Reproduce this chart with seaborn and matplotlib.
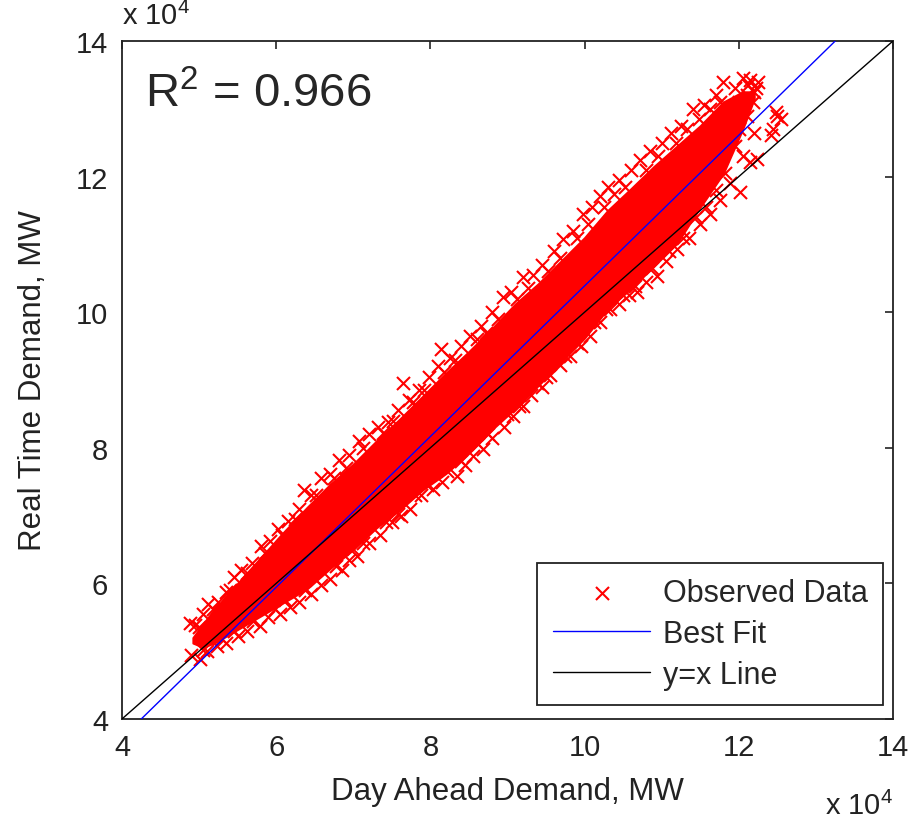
"""Real time vs day ahead demand scatter."""
import numpy as np
import matplotlib

matplotlib.use("Agg")
import matplotlib.pyplot as plt
import seaborn as sns

# all values in units of 10^4 MW

# dense (saturated) part of the cloud: lower / upper edge per day-ahead value
core_x = [4.92, 5.05, 5.2, 5.5, 5.8, 6.1, 6.4, 6.7, 7.0, 7.3, 7.6, 7.9, 8.2, 8.5,
          8.8, 9.1, 9.4, 9.7, 10.0, 10.3, 10.6, 10.9, 11.2, 11.5, 11.8, 12.05, 12.2]
core_lower = [5.12, 5.06, 5.12, 5.32, 5.52, 5.72, 5.92, 6.22, 6.5, 6.82, 7.08, 7.38, 7.62,
              7.92, 8.27, 8.58, 8.92, 9.27, 9.62, 10.05, 10.35, 10.68, 11.02, 11.55,
              12.05, 12.7, 13.15]
core_upper = [5.2, 5.4, 5.62, 6.0, 6.38, 6.76, 7.12, 7.46, 7.76, 8.1, 8.42, 8.76, 9.1,
              9.42, 9.76, 10.12, 10.42, 10.76, 11.1, 11.5, 11.82, 12.15, 12.45, 12.75,
              13.1, 13.25, 13.25]

# loose points along the upper edge
hi_x = [4.88, 4.95, 5.05, 5.12, 5.25, 5.35, 5.45, 5.55, 5.68, 5.8, 5.92, 6.02,
        6.15, 6.3, 6.36, 6.45, 6.58, 6.7, 6.82, 6.95, 7.08, 7.2, 7.32, 7.45,
        7.58, 7.64, 7.72, 7.85, 7.98, 8.1, 8.14, 8.25, 8.4, 8.52, 8.65, 8.8,
        8.94, 9.05, 9.2, 9.33, 9.45, 9.6, 9.72, 9.85, 9.98, 10.1, 10.2, 10.3,
        10.45, 10.6, 10.72, 10.85, 11.0, 11.12, 11.25, 11.41, 11.55, 11.7]
hi_y = [5.42, 5.38, 5.55, 5.7, 5.72, 5.88, 6.1, 6.2, 6.3, 6.55, 6.62, 6.8,
        6.92, 7.1, 7.38, 7.3, 7.55, 7.62, 7.82, 7.9, 8.1, 8.2, 8.3, 8.38,
        8.55, 8.95, 8.7, 8.85, 9.05, 9.2, 9.45, 9.32, 9.5, 9.65, 9.8, 10.0,
        10.22, 10.3, 10.52, 10.55, 10.7, 10.9, 11.08, 11.2, 11.45, 11.55, 11.72, 11.85,
        11.95, 12.1, 12.25, 12.38, 12.5, 12.65, 12.75, 13.0, 13.05, 13.2]

# points just inside the upper edge
hi_in_x = [5.0, 5.18, 5.4, 5.62, 5.85, 6.08, 6.25, 6.52, 6.75, 6.9, 7.12, 7.38,
           7.52, 7.78, 7.92, 8.18, 8.32, 8.6, 8.72, 8.88, 9.12, 9.26, 9.52, 9.68,
           9.9, 10.05, 10.25, 10.38, 10.52, 10.8, 10.95, 11.18, 11.33, 11.48,
           11.62, 11.75]
hi_in_y = [5.35, 5.62, 5.9, 6.15, 6.45, 6.72, 6.95, 7.3, 7.55, 7.7, 8.0, 8.22,
           8.4, 8.68, 8.85, 9.12, 9.3, 9.6, 9.7, 9.9, 10.2, 10.35, 10.6, 10.8,
           11.1, 11.3, 11.55, 11.75, 11.85, 12.1, 12.3, 12.5, 12.7, 12.85,
           13.0, 13.1]

# loose points along the lower edge
lo_x = [4.9, 5.01, 5.1, 5.23, 5.35, 5.5, 5.62, 5.79, 5.9, 6.05, 6.18, 6.3,
        6.45, 6.58, 6.7, 6.85, 6.95, 7.05, 7.2, 7.35, 7.5, 7.62, 7.74, 7.88,
        8.03, 8.15, 8.34, 8.45, 8.55, 8.68, 8.8, 8.95, 9.07, 9.2, 9.3, 9.45,
        9.55, 9.68, 9.81, 9.95, 10.07, 10.2, 10.33, 10.45, 10.58, 10.68, 10.8,
        10.94, 11.05, 11.2, 11.35, 11.5, 11.63, 11.75, 11.88]
lo_y = [4.95, 4.88, 5.0, 5.08, 5.12, 5.22, 5.3, 5.37, 5.5, 5.55, 5.65, 5.72,
        5.85, 5.98, 6.06, 6.2, 6.35, 6.4, 6.6, 6.72, 6.9, 7.0, 7.1, 7.3,
        7.39, 7.5, 7.58, 7.75, 7.88, 7.98, 8.15, 8.3, 8.47, 8.62, 8.78, 8.9,
        9.08, 9.22, 9.35, 9.5, 9.65, 9.85, 10.05, 10.12, 10.25, 10.3, 10.45,
        10.53, 10.75, 10.93, 11.1, 11.3, 11.45, 11.65, 11.9]

# points just inside the lower edge
lo_in_x = [5.05, 5.3, 5.45, 5.7, 5.98, 6.12, 6.38, 6.52, 6.78, 7.0, 7.12, 7.42,
           7.58, 7.8, 7.95, 8.22, 8.4, 8.62, 8.75, 9.0, 9.15, 9.38, 9.5, 9.75,
           9.9, 10.12, 10.28, 10.5, 10.65, 10.88, 11.1, 11.28, 11.45, 11.58,
           11.7, 11.82]
lo_in_y = [5.02, 5.18, 5.3, 5.45, 5.62, 5.75, 5.9, 6.05, 6.25, 6.5, 6.6, 6.9,
           7.02, 7.3, 7.45, 7.65, 7.8, 8.05, 8.2, 8.5, 8.62, 8.95, 9.05, 9.35,
           9.55, 9.85, 10.05, 10.25, 10.38, 10.65, 10.9, 11.1, 11.4, 11.55,
           11.8, 12.05]

# high-demand tip and stray points on the right
tip_x = [11.8, 11.9, 11.95, 12.0, 12.05, 12.1, 12.12, 12.15, 12.2, 12.22, 12.25,
         12.18, 12.1, 12.0, 11.85, 11.95, 12.05, 12.2, 12.01, 12.15, 12.24,
         12.42, 12.45, 12.48, 12.5, 12.55]
tip_y = [13.4, 12.9, 13.3, 13.1, 13.45, 13.2, 13.35, 13.42, 13.25, 13.3, 13.4,
         13.1, 12.9, 12.7, 12.6, 12.45, 12.3, 12.65, 11.77, 12.21, 12.26,
         12.62, 12.7, 12.95, 12.9, 12.85]

# best fit line and the y = x reference
fit_slope = 1.111
fit_intercept = -0.722
line_x = [4.0, 14.0]

ticks = [4, 6, 8, 10, 12, 14]

sns.set_style("white")
plt.rcParams["font.family"] = ["Liberation Sans", "DejaVu Sans"]
plt.rcParams["mathtext.fontset"] = "custom"
plt.rcParams["mathtext.rm"] = "Liberation Sans"
plt.rcParams["mathtext.it"] = "Liberation Sans:italic"

fig = plt.figure(figsize=(9.13, 8.2), dpi=100)
ax = fig.add_axes([0.1336, 0.122, 0.8445, 0.8268])

obs_x = np.concatenate([hi_x, hi_in_x, lo_x, lo_in_x, tip_x])
obs_y = np.concatenate([hi_y, hi_in_y, lo_y, lo_in_y, tip_y])

ax.fill_between(core_x, core_lower, core_upper, color="red", lw=1.5, zorder=1)
sns.scatterplot(x=obs_x, y=obs_y, marker="x", color="red", s=88, linewidth=1.5,
                ax=ax, zorder=2, label="Observed Data")

fit_y = [fit_slope * v + fit_intercept for v in line_x]
sns.lineplot(x=line_x, y=fit_y, color="blue", lw=1.0, ax=ax, zorder=3,
             label="Best Fit")
sns.lineplot(x=line_x, y=line_x, color="black", lw=1.0, ax=ax, zorder=3,
             label="y=x Line")

ax.set_xlim(4, 14)
ax.set_ylim(4, 14)
ax.set_xticks(ticks)
ax.set_yticks(ticks)
ax.set_xticklabels([str(t) for t in ticks])
ax.set_yticklabels([str(t) for t in ticks])
ax.tick_params(direction="in", length=6, width=1.2, labelsize=21, pad=10,
               top=True, right=True, colors="#222222")
for sp in ax.spines.values():
    sp.set_linewidth(1.3)
    sp.set_color("#222222")

ax.set_xlabel("Day Ahead Demand, MW", fontsize=22.5, labelpad=11, color="#222222")
ax.set_ylabel("Real Time Demand, MW", fontsize=22.5, labelpad=20, color="#222222")

ax.text(0, 1.025, r"x 10$^{4}$", transform=ax.transAxes, fontsize=21,
        ha="left", va="baseline", color="#222222")
ax.text(1.0, -0.14, r"x 10$^{4}$", transform=ax.transAxes, fontsize=21,
        ha="right", va="baseline", color="#222222")
ax.text(4.3, 13.04, r"R$^2$ = 0.966", fontsize=34, ha="left", va="baseline")

leg = ax.legend(loc="lower right", bbox_to_anchor=(0.987, 0.0206),
                borderaxespad=0, fontsize=22, handlelength=3.2,
                handletextpad=0.4, labelspacing=0.35, borderpad=0.5,
                fancybox=False, framealpha=1, edgecolor="#222222")
leg.get_frame().set_linewidth(1.3)

fig.savefig("out.png", dpi=100)
